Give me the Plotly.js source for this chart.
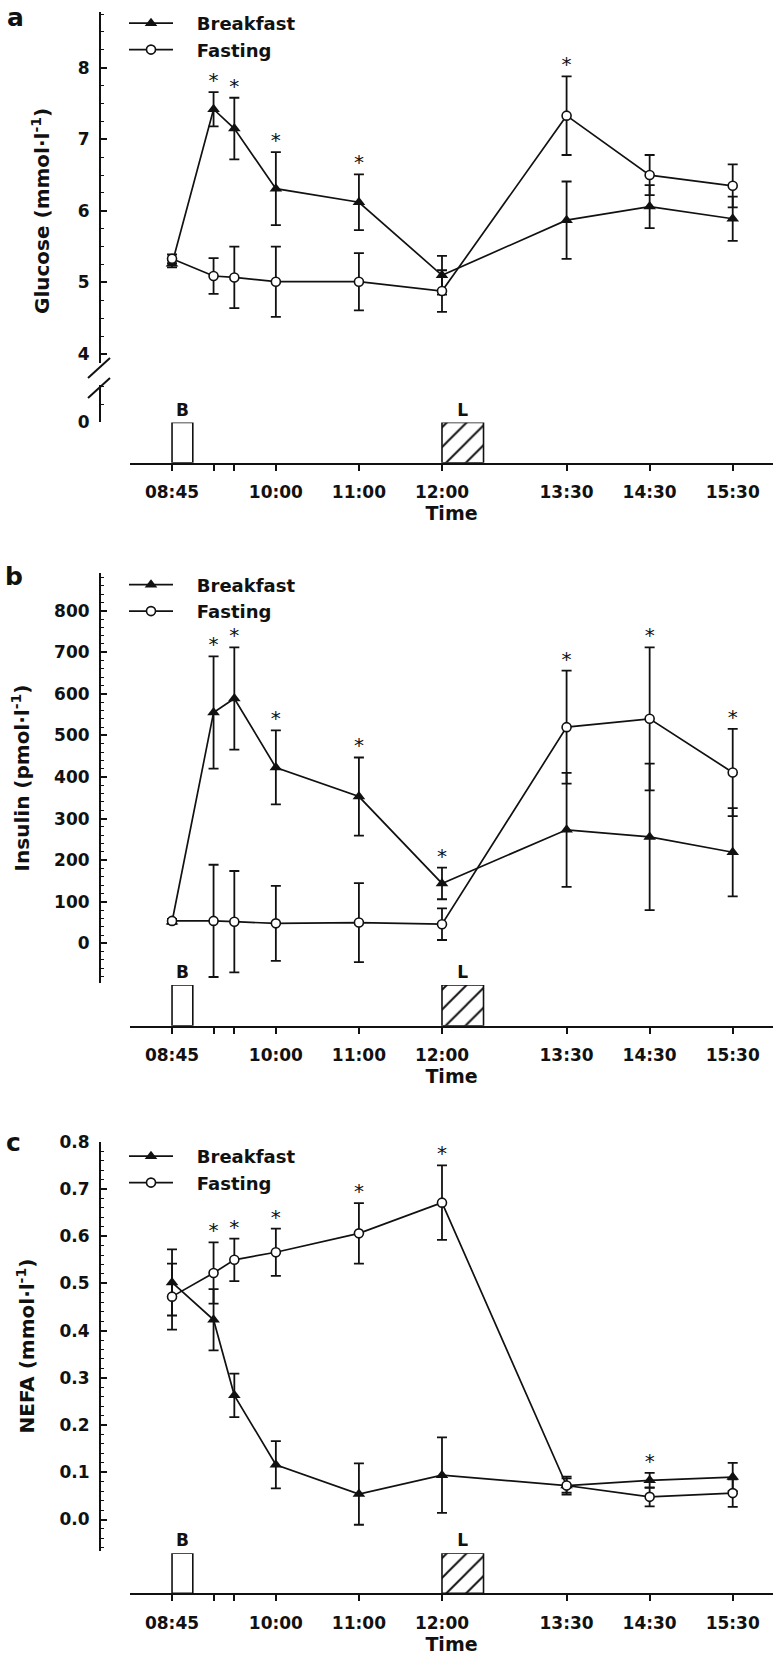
<!DOCTYPE html>
<html><head><meta charset="utf-8">
<script src="https://cdn.plot.ly/plotly-3.0.1.min.js"></script>
<style>html,body{margin:0;padding:0;background:#fff}</style>
</head><body><div id="chart" style="width:777px;height:1660px"></div>
<script>
// ---------- data ----------
const times = [8.75, 9.25, 9.5, 10, 11, 12, 13.5, 14.5, 15.5];
const timeLabels = ['08:45', '', '', '10:00', '11:00', '12:00', '13:30', '14:30', '15:30'];

const gluBreakfast   = [5.26, 7.42, 7.15, 6.31, 6.12, 5.10, 5.87, 6.06, 5.89];
const gluBreakfastSD = [0.05, 0.24, 0.43, 0.51, 0.39, 0.27, 0.54, 0.30, 0.31];
const gluFasting     = [5.33, 5.09, 5.07, 5.01, 5.01, 4.88, 7.33, 6.50, 6.35];
const gluFastingSD   = [0.06, 0.25, 0.43, 0.49, 0.40, 0.29, 0.55, 0.28, 0.30];
const gluSig         = [0, 1, 1, 1, 1, 0, 1, 0, 0];

const insBreakfast   = [52, 555, 589, 423, 353, 144, 273, 256, 219];
const insBreakfastSD = [5, 135, 123, 89, 94, 38, 137, 176, 106];
const insFasting     = [54, 54, 52, 48, 50, 46, 520, 540, 411];
const insFastingSD   = [5, 135, 122, 90, 95, 38, 136, 172, 105];
const insSig         = [0, 1, 1, 1, 1, 1, 1, 1, 1];

const nefaBreakfast   = [0.502, 0.423, 0.263, 0.116, 0.054, 0.094, 0.072, 0.083, 0.090];
const nefaBreakfastSD = [0.070, 0.065, 0.046, 0.050, 0.065, 0.080, 0.015, 0.016, 0.030];
const nefaFasting     = [0.472, 0.522, 0.550, 0.566, 0.606, 0.671, 0.072, 0.048, 0.056];
const nefaFastingSD   = [0.070, 0.065, 0.045, 0.050, 0.064, 0.079, 0.019, 0.020, 0.029];
const nefaSig         = [0, 1, 1, 1, 1, 1, 0, 1, 0];

const mealStart = [8.75, 12.0];
const mealDuration = [0.25, 0.5];
const mealLabel = ['B', 'L'];
const mealPattern = ['', '/'];
const mealHeight = [1, 1];

const seriesNames = ['Breakfast', 'Fasting'];

// ---------- helpers ----------
const W = 777, H = 1660;
const px = v => v / W;
const py = v => 1 - v / H;
const FONT = 'DejaVu Sans';
const BLACK = '#111';
const NB = '\u00a0\u00a0\u00a0';

const labeledTimes = times.filter((t, i) => timeLabels[i] !== '');
const labeledText = timeLabels.filter(l => l !== '');
const unlabeledTimes = times.filter((t, i) => timeLabels[i] === '');

function seriesTraces(B, Bsd, F, Fsd, sig, yax, xax, leg) {
  const bre = {
    type: 'scatter', mode: 'lines+markers', name: NB + seriesNames[0],
    x: times, y: B, xaxis: xax, yaxis: yax, legend: leg, legendgroup: leg + 'b',
    line: {color: BLACK, width: 1.7},
    marker: {symbol: 'triangle-up', size: 11, color: BLACK},
    error_y: {type: 'data', array: Bsd, visible: true, color: BLACK, thickness: 1.8, width: 5},
    hoverinfo: 'x+y'
  };
  const fas = {
    type: 'scatter', mode: 'lines+markers', name: NB + seriesNames[1],
    x: times, y: F, xaxis: xax, yaxis: yax, legend: leg, legendgroup: leg + 'f',
    line: {color: BLACK, width: 1.7},
    marker: {symbol: 'circle', size: 9, color: 'white', line: {color: BLACK, width: 1.6}},
    error_y: {type: 'data', array: Fsd, visible: true, color: BLACK, thickness: 1.8, width: 5},
    hoverinfo: 'x+y'
  };
  const sx = [], sy = [];
  times.forEach((t, i) => {
    if (sig[i]) { sx.push(t); sy.push(Math.max(B[i] + Bsd[i], F[i] + Fsd[i])); }
  });
  const st = {
    type: 'scatter', mode: 'text', x: sx, y: sy, text: sx.map(() => '*'),
    textposition: 'top center', textfont: {family: FONT, size: 20, color: BLACK},
    xaxis: xax, yaxis: yax, showlegend: false, hoverinfo: 'skip', cliponaxis: false
  };
  return [bre, fas, st];
}

function mealTrace(xax, yax) {
  return {
    type: 'bar', x: mealStart, y: mealHeight, width: mealDuration, offset: 0,
    xaxis: xax, yaxis: yax, showlegend: false, hoverinfo: 'skip',
    text: mealLabel, textposition: 'outside', cliponaxis: false, constraintext: 'none',
    textfont: {family: FONT, size: 17, weight: 'bold', color: BLACK},
    marker: {color: 'white', line: {color: BLACK, width: 1.6},
      pattern: {shape: mealPattern, fgcolor: BLACK, bgcolor: 'white', size: 14, solidity: 0.14}}
  };
}

const tickfont = {family: FONT, size: 17, weight: 'bold', color: BLACK};
const titleFont = {family: FONT, size: 20, weight: 'bold', color: BLACK};

function yAxis(top, bottom, range, dtick, minorDtick, extra) {
  return Object.assign({
    domain: [py(bottom), py(top)], range: range, anchor: 'free', position: px(100),
    showline: true, linewidth: 2, linecolor: BLACK, showgrid: false, zeroline: false,
    ticks: 'inside', ticklen: 6, tickwidth: 2, tickcolor: BLACK, dtick: dtick, tick0: 0,
    tickfont: tickfont, ticklabelstandoff: 6, fixedrange: true,
    minor: {ticks: 'inside', ticklen: 3, tickwidth: 1.4, tickcolor: BLACK, dtick: minorDtick, tick0: 0, showgrid: false}
  }, extra || {});
}

function xAxis(anchor) {
  return {
    domain: [px(130), px(773)], range: [8.244, 15.985], anchor: anchor,
    showline: true, linewidth: 2, linecolor: BLACK, showgrid: false, zeroline: false,
    tickvals: labeledTimes, ticktext: labeledText, ticks: 'outside', ticklen: 6, tickwidth: 2, tickcolor: BLACK,
    tickfont: tickfont, ticklabelstandoff: 7, fixedrange: true,
    minor: {tickvals: unlabeledTimes, ticks: 'outside', ticklen: 6, tickwidth: 2, tickcolor: BLACK, showgrid: false},
    title: {text: 'Time', font: {family: FONT, size: 19, weight: 'bold', color: BLACK}, standoff: 5}
  };
}

function barAxis(top, bottom) {
  return {domain: [py(bottom), py(top)], range: [0, 1], anchor: 'free', position: px(130),
    visible: false, fixedrange: true, showgrid: false, zeroline: false};
}

function legendAt(top) {
  return {x: px(124), y: py(top), xanchor: 'left', yanchor: 'top', bgcolor: 'rgba(0,0,0,0)',
    borderwidth: 0, tracegroupgap: 0, itemwidth: 44,
    font: {family: FONT, size: 18, weight: 'bold', color: BLACK}};
}

const data = [
  ...seriesTraces(gluBreakfast, gluBreakfastSD, gluFasting, gluFastingSD, gluSig, 'y', 'x', 'legend'),
  {type: 'scatter', x: [], y: [], xaxis: 'x', yaxis: 'y2', showlegend: false, hoverinfo: 'skip'},
  mealTrace('x', 'y3'),
  ...seriesTraces(insBreakfast, insBreakfastSD, insFasting, insFastingSD, insSig, 'y4', 'x2', 'legend2'),
  mealTrace('x2', 'y5'),
  ...seriesTraces(nefaBreakfast, nefaBreakfastSD, nefaFasting, nefaFastingSD, nefaSig, 'y6', 'x3', 'legend3'),
  mealTrace('x3', 'y7')
];

const letterFont = {family: FONT, size: 25, weight: 'bold', color: BLACK};

const layout = {
  width: W, height: H, margin: {l: 0, r: 0, t: 0, b: 0},
  paper_bgcolor: 'white', plot_bgcolor: 'rgba(0,0,0,0)',
  showlegend: true, hovermode: 'closest',
  font: {family: FONT, color: BLACK},
  xaxis: xAxis('y3'),
  yaxis: yAxis(12, 363, [3.8746, 8.778], 1, 0.25),
  yaxis2: yAxis(385, 422, [0, 0.517], 1, 0.25, {tickvals: [0], ticktext: ['0']}),
  yaxis3: barAxis(422.5, 462.7),
  xaxis2: xAxis('y5'),
  yaxis4: yAxis(573.3, 982.7, [-94.7, 890], 100, 20,
    {title: {text: 'Insulin (pmol·l<sup>-1</sup>)', font: titleFont, standoff: 18}}),
  yaxis5: barAxis(985, 1025.7),
  xaxis3: xAxis('y7'),
  yaxis6: yAxis(1141.5, 1550.7, [-0.066, 0.8005], 0.1, 0.02,
    {tickformat: '.1f', title: {text: 'NEFA (mmol·l<sup>-1</sup>)', font: titleFont, standoff: 18}}),
  yaxis7: barAxis(1553.3, 1593.3),
  legend: legendAt(5),
  legend2: legendAt(566.5),
  legend3: legendAt(1138),
  annotations: [
    {text: 'Glucose (mmol·l<sup>-1</sup>)', xref: 'paper', yref: 'paper', x: px(41), y: py(211),
     xanchor: 'center', yanchor: 'middle', textangle: -90, showarrow: false, font: titleFont},
    {text: 'a', xref: 'paper', yref: 'paper', x: px(15), y: py(1), xanchor: 'center', yanchor: 'top', showarrow: false, font: letterFont},
    {text: 'b', xref: 'paper', yref: 'paper', x: px(14), y: py(560), xanchor: 'center', yanchor: 'top', showarrow: false, font: letterFont},
    {text: 'c', xref: 'paper', yref: 'paper', x: px(13), y: py(1126), xanchor: 'center', yanchor: 'top', showarrow: false, font: letterFont}
  ],
  shapes: [
    {type: 'line', xref: 'paper', yref: 'paper', x0: px(88), y0: py(378), x1: px(110), y1: py(358), line: {color: BLACK, width: 2}},
    {type: 'line', xref: 'paper', yref: 'paper', x0: px(88), y0: py(398), x1: px(110), y1: py(378), line: {color: BLACK, width: 2}}
  ]
};

Plotly.newPlot('chart', data, layout, {displayModeBar: false, responsive: false});
</script></body></html>
